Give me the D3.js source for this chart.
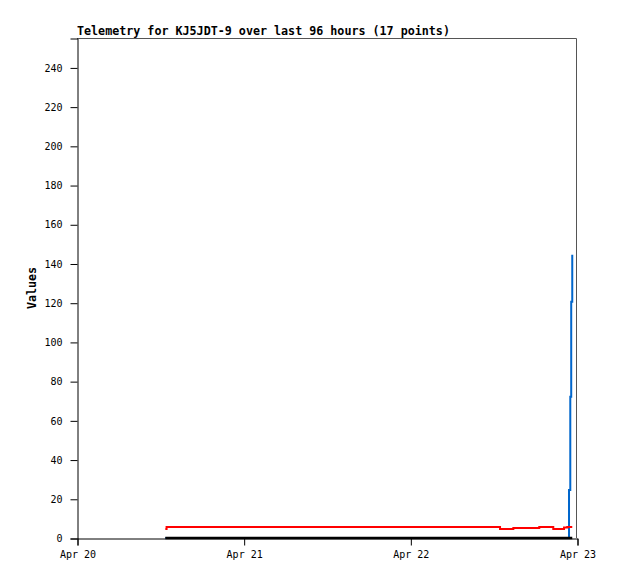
<!DOCTYPE html>
<html lang="en">
<head>
    <meta charset="UTF-8">
    <title>Telemetry</title>
    <script src="https://d3js.org/d3.v7.min.js"></script>
    <style>
        body {margin: 0; background: white;}
        text {font-family: "DejaVu Sans Mono", "Liberation Mono", monospace;}
    </style>
</head>
<body>
<script>
    const width = 618;
    const height = 579;
    const margin = {top: 38, right: 41, bottom: 41, left: 77};

    const title = "Telemetry for KJ5JDT-9 over last 96 hours (17 points)";
    const yLabel = "Values";

    // sample times (UTC)
    const times = [
        "2024-04-20T12:43", "2024-04-20T12:54", "2024-04-22T12:55", "2024-04-22T14:50",
        "2024-04-22T18:34", "2024-04-22T20:35", "2024-04-22T22:08", "2024-04-22T22:36",
        "2024-04-22T22:51", "2024-04-22T23:02", "2024-04-22T23:10", "2024-04-22T23:19"
    ];
    const redValues   = [4.6, 5.6, 4.6, 5.1, 5.6, 4.6, 5.3, 5.6, 5.6, 5.6, 5.6, 5.6];
    const blueValues  = [0, 0, 0, 0, 0, 0, 0, 0, 24.5, 72, 120.5, 144.5];
    const blackValues = [0, 0, 0, 0, 0, 0, 0, 0, 0, 0, 0, 0];

    const xDomain = ["2024-04-20T00:00", "2024-04-23T00:00"];
    const yTicks = [0, 20, 40, 60, 80, 100, 120, 140, 160, 180, 200, 220, 240];

    const parse = d3.utcParse("%Y-%m-%dT%H:%M");

    const svg = d3.select("body").append("svg")
            .attr("width", width).attr("height", height);

    const x = d3.scaleUtc()
            .domain(xDomain.map(parse))
            .range([margin.left, width - margin.right]);

    const y = d3.scaleLinear()
            .domain([0, 255])
            .range([height - margin.bottom, margin.top]);

    // frame (top / right)
    svg.append("path")
            .attr("d", `M${margin.left},${margin.top + 0.5}H${width - margin.right - 0.5}V${height - margin.bottom}`)
            .style("fill", "none")
            .style("stroke", "#555")
            .style("stroke-width", 1);

    svg.append("g")
            .attr("transform", `translate(0.5,${height - margin.bottom + 0.5})`)
            .call(d3.axisBottom(x)
                    .ticks(d3.utcDay.every(1))
                    .tickFormat(d3.utcFormat("%b %d"))
                    .tickSizeOuter(0)
                    .tickSize(7)
                    .tickPadding(5));

    svg.append("g")
            .attr("transform", `translate(${margin.left + 0.5},0.5)`)
            .call(d3.axisLeft(y)
                    .tickValues(yTicks)
                    .tickSizeOuter(0)
                    .tickSize(7)
                    .tickPadding(8));

    svg.selectAll(".tick text")
            .style("font-size", "10px")
            .style("fill", "black");
    svg.selectAll(".domain, .tick line").style("stroke", "black");

    const data = times.map((t, i) => ({
        t: parse(t), red: redValues[i], blue: blueValues[i], black: blackValues[i]
    }));

    function drawSeries(key, color, w) {
        const line = d3.line()
                .curve(d3.curveStepAfter)
                .x(d => x(d.t))
                .y(d => y(d[key]));
        svg.append("path")
                .datum(data)
                .attr("d", line)
                .style("fill", "none")
                .style("stroke", color)
                .style("stroke-width", w);
    }

    drawSeries("blue", "#0066cc", 2);
    drawSeries("red", "#ff0000", 2);
    drawSeries("black", "black", 2.5);

    svg.append("text")
            .attr("x", margin.left)
            .attr("y", 35)
            .style("font-size", "11.7px")
            .style("font-weight", "bold")
            .text(title);

    svg.append("text")
            .attr("transform", `translate(36,${(margin.top + height - margin.bottom) / 2}) rotate(-90)`)
            .attr("text-anchor", "middle")
            .style("font-size", "11.7px")
            .style("font-weight", "bold")
            .text(yLabel);
</script>
</body>
</html>
